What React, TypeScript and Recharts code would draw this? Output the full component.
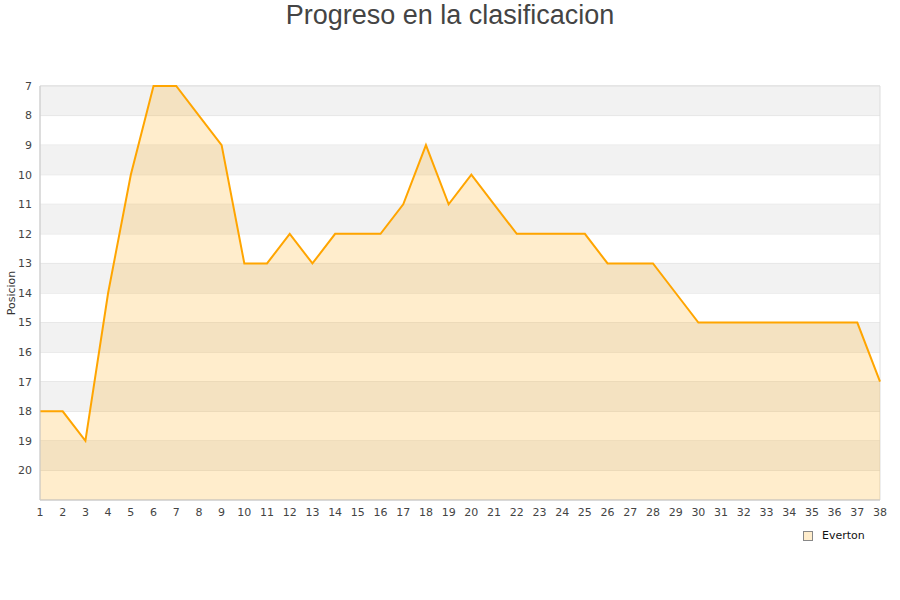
import {
  AreaChart,
  Area,
  XAxis,
  YAxis,
  CartesianGrid,
  ReferenceArea,
} from "recharts";

const TEAM = "Everton";
const MATCHDAYS = [
  1, 2, 3, 4, 5, 6, 7, 8, 9, 10, 11, 12, 13, 14, 15, 16, 17, 18, 19,
  20, 21, 22, 23, 24, 25, 26, 27, 28, 29, 30, 31, 32, 33, 34, 35, 36, 37, 38,
];
const POSITIONS = [
  18, 18, 19, 14, 10, 7, 7, 8, 9, 13, 13, 12, 13, 12, 12, 12, 11, 9, 11,
  10, 11, 12, 12, 12, 12, 13, 13, 13, 14, 15, 15, 15, 15, 15, 15, 15, 15, 17,
];
const Y_TICKS = [7, 8, 9, 10, 11, 12, 13, 14, 15, 16, 17, 18, 19, 20];
const SHADED_BANDS = [
  [7, 8], [9, 10], [11, 12], [13, 14], [15, 16], [17, 18], [19, 20],
];

const data = MATCHDAYS.map((j, i) => ({ jornada: j, pos: POSITIONS[i] }));

const tickStyle = { fontSize: 11, fill: "#444", fontFamily: "DejaVu Sans" };

function LegendBox() {
  return (
    <div
      style={{
        position: "absolute",
        left: 803,
        top: 529,
        display: "flex",
        alignItems: "center",
        fontFamily: "DejaVu Sans",
        fontSize: 11,
        color: "#111",
      }}
    >
      <span
        style={{
          display: "inline-block",
          width: 8,
          height: 8,
          background: "#ffedcc",
          border: "1px solid #888",
          marginRight: 9,
        }}
      />
      {TEAM}
    </div>
  );
}

export default function App() {
  return (
    <div style={{ position: "absolute", left: 0, top: 0, width: 900, height: 600, background: "#fff" }}>
      <div
        style={{
          position: "absolute",
          top: 0,
          left: 0,
          width: 900,
          textAlign: "center",
          fontFamily: "Liberation Sans, Arial, sans-serif",
          fontSize: 27,
          color: "#444",
        }}
      >
        Progreso en la clasificacion
      </div>
      <AreaChart width={900} height={600} data={data} margin={{ top: 86, right: 20, bottom: 70, left: 0 }}>
        {SHADED_BANDS.map(([a, b]) => (
          <ReferenceArea key={a} y1={a} y2={b} x1={1} x2={38} fill="#f2f2f2" fillOpacity={1} stroke="none" />
        ))}
        <CartesianGrid vertical={false} stroke="#dddddd" strokeDasharray="" />
        <ReferenceArea x1={1} x2={38} y1={7} y2={21} fill="none" stroke="#dddddd" />
        <XAxis
          dataKey="jornada"
          type="number"
          domain={[1, 38]}
          ticks={MATCHDAYS}
          interval={0}
          tickLine={false}
          axisLine={{ stroke: "#cccccc" }}
          tick={tickStyle}
          height={30}
        />
        <YAxis
          type="number"
          reversed
          domain={[7, 21]}
          ticks={Y_TICKS}
          interval={0}
          tickLine={false}
          axisLine={{ stroke: "#cccccc" }}
          tick={tickStyle}
          width={40}
          label={{
            value: "Posicion",
            angle: -90,
            position: "insideLeft",
            offset: 0,
            dx: 11,
            style: { fontSize: 11, fill: "#333", fontFamily: "DejaVu Sans", textAnchor: "middle" },
          }}
        />
        <Area
          type="linear"
          dataKey="pos"
          name={TEAM}
          baseValue={21}
          stroke="#ffa500"
          strokeWidth={2}
          fill="#ffa500"
          fillOpacity={0.2}
          dot={false}
          activeDot={false}
          isAnimationActive={false}
        />
      </AreaChart>
      <LegendBox />
    </div>
  );
}
